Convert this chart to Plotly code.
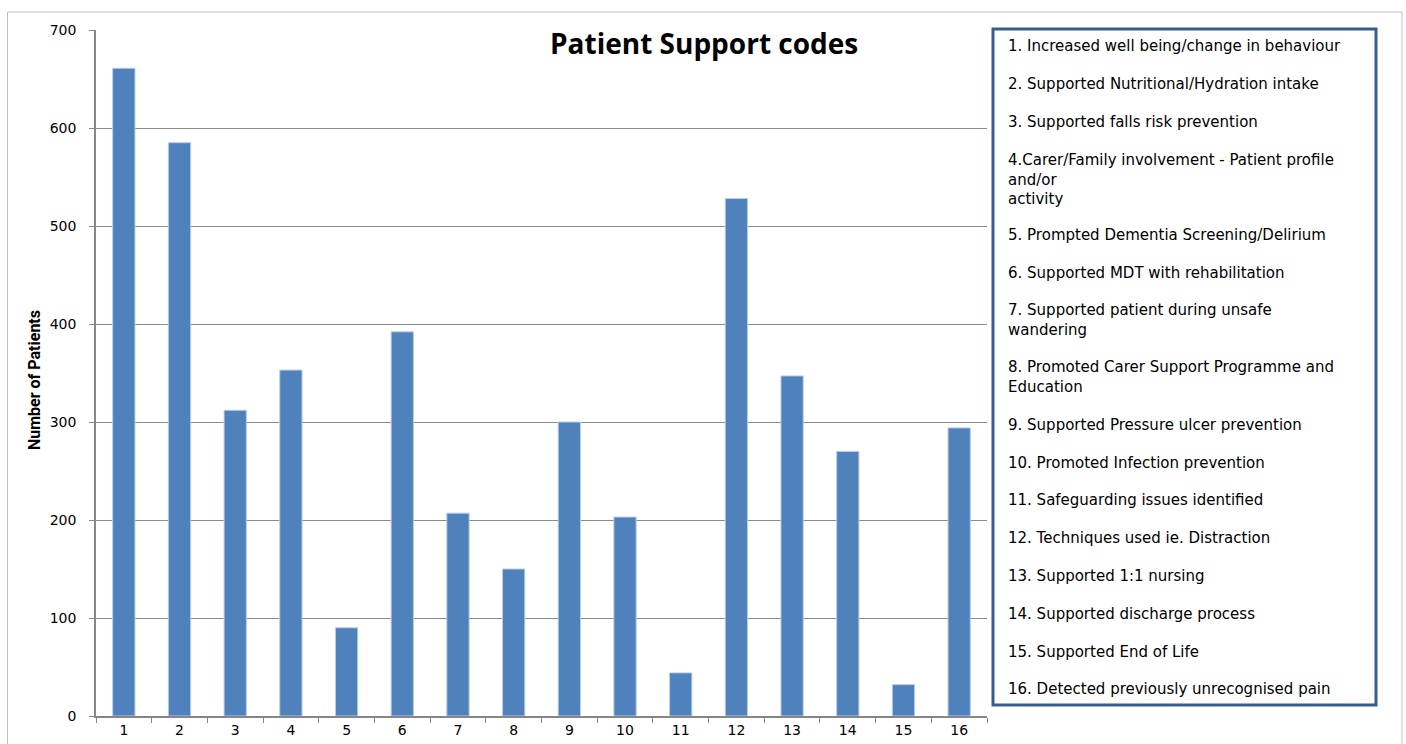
import plotly.graph_objects as go

categories = [str(i) for i in range(1, 17)]
patients = [661, 585, 312, 353, 90, 392, 207, 150, 300, 203, 44, 528, 347, 270, 32, 294]
code_labels = [
    "1. Increased well being/change in behaviour",
    "2. Supported Nutritional/Hydration intake",
    "3. Supported falls risk prevention",
    "4.Carer/Family involvement - Patient profile<br>and/or<br>activity",
    "5. Prompted Dementia Screening/Delirium",
    "6. Supported MDT with rehabilitation",
    "7. Supported patient during unsafe<br>wandering",
    "8. Promoted Carer Support Programme and<br>Education",
    "9. Supported Pressure ulcer prevention",
    "10. Promoted Infection prevention",
    "11. Safeguarding issues identified",
    "12. Techniques used ie. Distraction",
    "13. Supported 1:1 nursing",
    "14. Supported discharge process",
    "15. Supported End of Life",
    "16. Detected previously unrecognised pain",
]

W, H = 1406, 744
L, R, T, B = 96, 987, 30, 716


def px(x):
    return (x - L) / (R - L)


def py(y):
    return (B - y) / (B - T)


fig = go.Figure()
fig.add_trace(go.Bar(
    x=categories, y=patients,
    marker=dict(color="#4F81BD", line=dict(color="#B9CDE5", width=1)),
    showlegend=False,
))

fig.update_layout(
    width=W, height=H,
    margin=dict(l=L, r=W - R, t=T, b=H - B, autoexpand=False),
    paper_bgcolor="white", plot_bgcolor="white",
    bargap=0.6,
    font=dict(family="DejaVu Sans", color="black"),
)
fig.update_xaxes(
    type="category", tickson="boundaries", ticks="outside", ticklen=5,
    tickcolor="#868686", showline=True, linecolor="#868686", linewidth=1.5,
    showgrid=False, tickfont=dict(size=14, family="DejaVu Sans"), automargin=False,
)
fig.update_yaxes(
    range=[0, 700], dtick=100, ticks="outside", ticklen=5, tickcolor="#868686",
    showline=True, linecolor="#868686", linewidth=1.5,
    showgrid=True, gridcolor="#8C8C8C", gridwidth=1, zeroline=False,
    tickfont=dict(size=14, family="DejaVu Sans"), ticklabelstandoff=10, automargin=False,
)

shapes = []
# outer chart border
shapes.append(dict(type="rect", xref="paper", yref="paper",
                   x0=px(7.5), x1=px(1402), y0=py(770), y1=py(12),
                   line=dict(color="#BFBFBF", width=1), layer="below"))
# legend box
shapes.append(dict(type="rect", xref="paper", yref="paper",
                   x0=px(993), x1=px(1376), y0=py(705), y1=py(29),
                   line=dict(color="#3A5E8C", width=3), fillcolor="white"))
fig.update_layout(shapes=shapes)

label_y = [46, 84, 122, 179, 235, 273, 320, 377, 425, 463, 500, 538, 576, 614, 652, 689]
annotations = []
for txt, yy in zip(code_labels, label_y):
    annotations.append(dict(
        text=txt, xref="paper", yref="paper", x=px(1006), y=py(yy),
        xanchor="left", yanchor="middle", align="left", showarrow=False,
        font=dict(size=15, family="DejaVu Sans", color="black"),
    ))
annotations.append(dict(
    text="<b>Patient Support codes</b>", xref="paper", yref="paper",
    x=px(704), y=py(43), xanchor="center", yanchor="middle", showarrow=False,
    font=dict(size=28, family="Open Sans", color="black"),
))
annotations.append(dict(
    text="<b>Number of Patients</b>", xref="paper", yref="paper",
    x=px(34), y=py(380), xanchor="center", yanchor="middle", showarrow=False,
    textangle=-90, font=dict(size=16, family="Roboto", color="black"),
))
fig.update_layout(annotations=annotations)

fig.write_html(
    "out.html",
    config={"displayModeBar": False},
    post_script="document.body.style.margin='0';document.body.style.overflow='hidden';",
)
